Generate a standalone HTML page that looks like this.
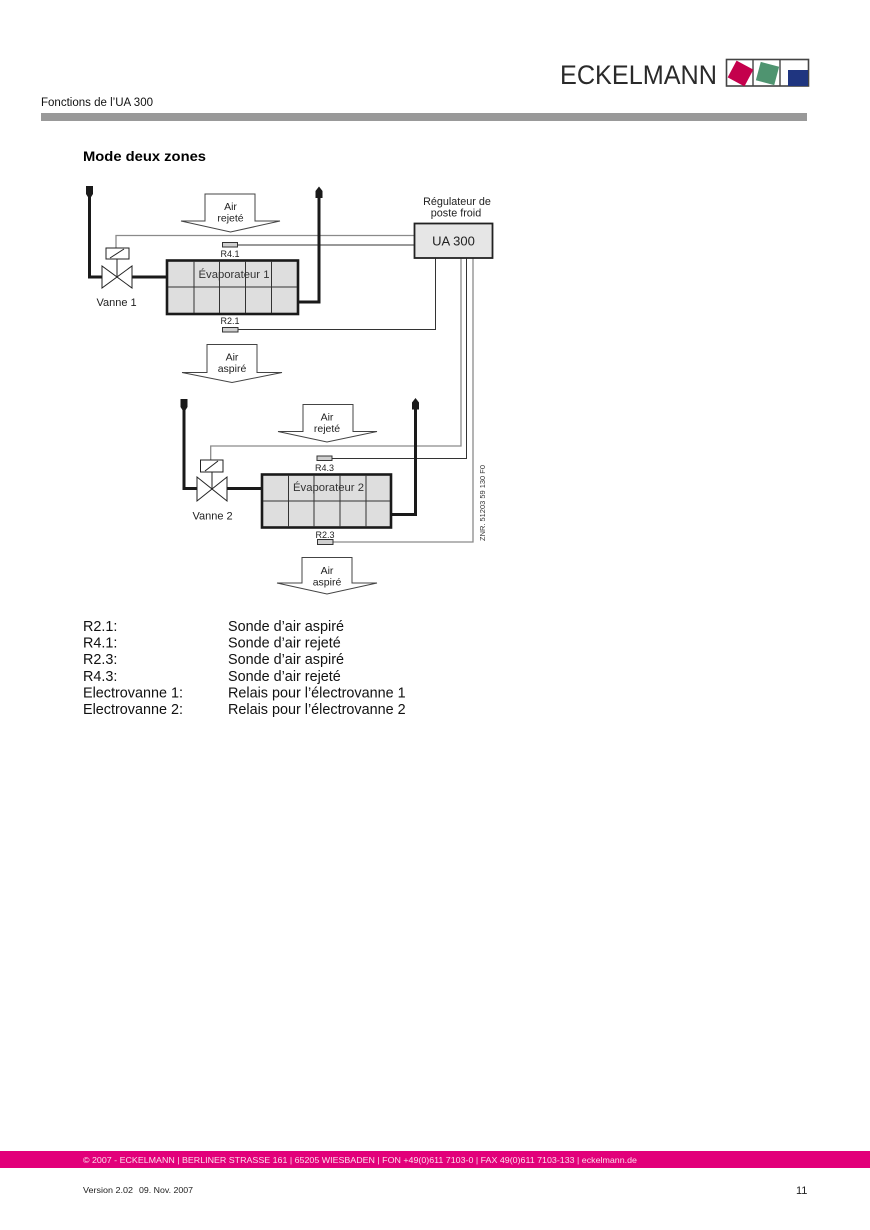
<!DOCTYPE html>
<html><head><meta charset="utf-8"><style>
html,body{margin:0;padding:0;background:#fff;}
svg{display:block;}
text{font-family:"Liberation Sans",Arial,sans-serif;}
</style></head><body>
<svg width="870" height="1230" viewBox="0 0 870 1230" xmlns="http://www.w3.org/2000/svg">
<!-- Header -->
<text x="560" y="84" font-size="27" fill="#2a2a2a" textLength="157" lengthAdjust="spacingAndGlyphs">ECKELMANN</text>
<g>
<rect x="726.5" y="59.5" width="82" height="26.5" fill="#fff" stroke="#444" stroke-width="1.6"/>
<line x1="753" y1="59.5" x2="753" y2="86" stroke="#444" stroke-width="1.4"/>
<line x1="780" y1="59.5" x2="780" y2="86" stroke="#444" stroke-width="1.4"/>
<rect x="731" y="64" width="19" height="19" fill="#c4004c" transform="rotate(28 740.5 73.5)"/>
<rect x="758" y="64" width="19" height="19" fill="#4f9470" transform="rotate(15 767.5 73.5)"/>
<rect x="788" y="70" width="20" height="16" fill="#1f3580"/>
</g>
<text x="41" y="106" font-size="11.5" fill="#111" textLength="112" lengthAdjust="spacingAndGlyphs">Fonctions de l’UA 300</text>
<rect x="41" y="113" width="766" height="8" fill="#999"/>
<text x="83" y="161" font-size="14" font-weight="bold" fill="#000" textLength="123" lengthAdjust="spacingAndGlyphs">Mode deux zones</text>

<!-- Air arrows -->
<g fill="#fff" stroke="#444" stroke-width="1">
<polygon points="205,194 255,194 255,221 280,221 230.5,232 181,221 205,221"/>
<polygon points="207,344.5 257,344.5 257,372.5 282,372.5 232,382.5 182,372.5 207,372.5"/>
<polygon points="303,404.5 353,404.5 353,431.5 377,431.5 327,442 278,431.5 303,431.5"/>
<polygon points="302,557.5 352,557.5 352,583 377,583 327,594 277,583 302,583"/>
</g>
<g font-size="10.5" fill="#222" text-anchor="middle">
<text x="230.5" y="210">Air</text><text x="230.5" y="221.5">rejeté</text>
<text x="232" y="360.5">Air</text><text x="232" y="372">aspiré</text>
<text x="327" y="420.5">Air</text><text x="327" y="432">rejeté</text>
<text x="327" y="574">Air</text><text x="327" y="585.5">aspiré</text>
</g>

<!-- Signal lines -->
<g fill="none" stroke-width="1.3">
<polyline points="116,248 116,235.5 414,235.5" stroke="#8a8a8a"/>
<polyline points="237,245 414,245" stroke="#333" stroke-width="1"/>
<polyline points="238,329.5 435.5,329.5 435.5,258" stroke="#333" stroke-width="1"/>
<polyline points="210.7,460 210.7,446 461,446 461,258" stroke="#8a8a8a"/>
<polyline points="332,458.5 466.5,458.5 466.5,258" stroke="#333" stroke-width="1"/>
<polyline points="333,542 473,542 473,258" stroke="#8a8a8a"/>
</g>

<!-- UA 300 -->
<text x="457" y="205" font-size="10.8" fill="#222" text-anchor="middle">Régulateur de</text>
<text x="456" y="216.5" font-size="10.8" fill="#222" text-anchor="middle">poste froid</text>
<rect x="414.5" y="223.5" width="78" height="34.5" fill="#e6e6e6" stroke="#222" stroke-width="1.8"/>
<text x="453.5" y="245.5" font-size="13" fill="#222" text-anchor="middle">UA 300</text>

<!-- Pipes -->
<g fill="none" stroke="#1a1a1a" stroke-width="3">
<polyline points="89.5,197 89.5,277 102,277"/>
<line x1="132" y1="277" x2="167" y2="277"/>
<polyline points="298,302 319,302 319,196"/>
<polyline points="184,410 184,488.5 197,488.5"/>
<line x1="227" y1="488.5" x2="262" y2="488.5"/>
<polyline points="391,514.5 415.5,514.5 415.5,407"/>
</g>
<g fill="#1a1a1a">
<polygon points="86,186 93,186 93,194 89.5,199.5 86,194"/>
<polygon points="319,186.5 322.5,191 322.5,198 315.5,198 315.5,191"/>
<polygon points="180.5,399 187.5,399 187.5,407 184,412.5 180.5,407"/>
<polygon points="415.5,398 419,402.5 419,409.5 412,409.5 412,402.5"/>
</g>

<!-- Evaporator 1 -->
<rect x="167" y="260.5" width="131" height="53.5" fill="#dedede" stroke="#1a1a1a" stroke-width="2.6"/>
<g stroke="#333" stroke-width="1">
<line x1="194" y1="261" x2="194" y2="313"/><line x1="219.5" y1="261" x2="219.5" y2="313"/>
<line x1="245.5" y1="261" x2="245.5" y2="313"/><line x1="271.5" y1="261" x2="271.5" y2="313"/>
<line x1="168" y1="287" x2="297" y2="287"/>
</g>
<text x="234" y="278" font-size="11.3" fill="#333" text-anchor="middle">Évaporateur 1</text>

<!-- Evaporator 2 -->
<rect x="262" y="474.5" width="129" height="53" fill="#dedede" stroke="#1a1a1a" stroke-width="2.6"/>
<g stroke="#333" stroke-width="1">
<line x1="288.5" y1="475" x2="288.5" y2="527"/><line x1="314" y1="475" x2="314" y2="527"/>
<line x1="340" y1="475" x2="340" y2="527"/><line x1="366" y1="475" x2="366" y2="527"/>
<line x1="263" y1="501" x2="390" y2="501"/>
</g>
<text x="328.5" y="491" font-size="11.3" fill="#333" text-anchor="middle">Évaporateur 2</text>

<!-- Valves -->
<g fill="#fff" stroke="#222" stroke-width="1">
<polygon points="102,266 102,288 117,277"/><polygon points="132,266 132,288 117,277"/>
<line x1="117" y1="259" x2="117" y2="277"/>
<rect x="106" y="248" width="23" height="11"/>
<line x1="110" y1="258" x2="124" y2="249"/>
<polygon points="197,477 197,501 212,489"/><polygon points="227,477 227,501 212,489"/>
<line x1="212" y1="472" x2="212" y2="489"/>
<rect x="200.5" y="460" width="22.5" height="12"/>
<line x1="205" y1="471" x2="218" y2="461"/>
</g>
<text x="96.5" y="306" font-size="11" fill="#222">Vanne 1</text>
<text x="192.5" y="519.5" font-size="11" fill="#222">Vanne 2</text>

<!-- Sensors -->
<g fill="#cfcfcf" stroke="#333" stroke-width="1">
<rect x="222.5" y="242.5" width="15" height="4.5"/>
<rect x="222.5" y="327.5" width="15.5" height="4.5"/>
<rect x="317" y="456" width="15" height="4.5"/>
<rect x="317.5" y="539.5" width="15.5" height="5"/>
</g>
<g font-size="9" fill="#222" text-anchor="middle">
<text x="230" y="257">R4.1</text>
<text x="230" y="324">R2.1</text>
<text x="324.5" y="471">R4.3</text>
<text x="325" y="538">R2.3</text>
</g>
<text transform="translate(485,541) rotate(-90)" font-size="7" fill="#333" textLength="76" lengthAdjust="spacingAndGlyphs">ZNR. 51203 59 130 F0</text>

<!-- Legend -->
<g font-size="14.4" fill="#111">
<text x="83" y="631">R2.1:</text><text x="228" y="631">Sonde d’air aspiré</text>
<text x="83" y="647.6">R4.1:</text><text x="228" y="647.6">Sonde d’air rejeté</text>
<text x="83" y="664.2">R2.3:</text><text x="228" y="664.2">Sonde d’air aspiré</text>
<text x="83" y="680.8">R4.3:</text><text x="228" y="680.8">Sonde d’air rejeté</text>
<text x="83" y="697.4">Electrovanne 1:</text><text x="228" y="697.4">Relais pour l’électrovanne 1</text>
<text x="83" y="714">Electrovanne 2:</text><text x="228" y="714">Relais pour l’électrovanne 2</text>
</g>

<!-- Footer -->
<rect x="0" y="1151" width="870" height="17" fill="#e2007a"/>
<text x="83" y="1163" font-size="8.2" fill="#fbdcec" textLength="554" lengthAdjust="spacingAndGlyphs">© 2007 - ECKELMANN | BERLINER STRASSE 161 | 65205 WIESBADEN | FON +49(0)611 7103-0 | FAX 49(0)611 7103-133 | eckelmann.de</text>
<text x="83" y="1193" font-size="8.5" fill="#222" textLength="50" lengthAdjust="spacingAndGlyphs">Version 2.02</text>
<text x="139" y="1193" font-size="8.5" fill="#222" textLength="54" lengthAdjust="spacingAndGlyphs">09. Nov. 2007</text>
<text x="796" y="1194" font-size="11" fill="#222">11</text>
</svg>
</body></html>
